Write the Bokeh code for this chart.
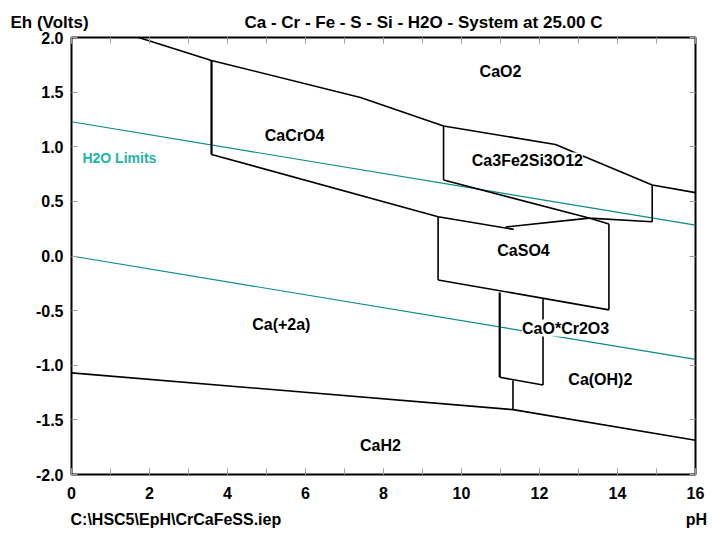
from bokeh.plotting import figure
from bokeh.models import (Range1d, LinearAxis, FixedTicker, NumeralTickFormatter,
                          CustomJSTickFormatter, Label, Title)
from bokeh.embed import file_html
from bokeh.resources import INLINE

# ---------------- data (pH, Eh in volts) ----------------
upper_ph = [1.72, 3.59, 7.41, 9.54, 12.41, 14.89, 16.0]
upper_eh = [2.0, 1.79, 1.45, 1.19, 1.02, 0.65, 0.58]

cacro4_left_ph = [3.59, 3.59]
cacro4_left_eh = [1.79, 0.93]
cacro4_lower_ph = [3.59, 9.40, 11.34]
cacro4_lower_eh = [0.93, 0.359, 0.244]
arrow_ph = [11.13, 13.27]
arrow_eh = [0.265, 0.347]

ca3_left_ph = [9.54, 9.54]
ca3_left_eh = [1.19, 0.695]
ca3_lower_ph = [9.54, 13.27, 14.89]
ca3_lower_eh = [0.695, 0.347, 0.313]
ca3_right_ph = [14.89, 14.89]
ca3_right_eh = [0.65, 0.313]

caso4_top_ph = [13.27, 13.78]
caso4_top_eh = [0.347, 0.292]
caso4_left_ph = [9.40, 9.40]
caso4_left_eh = [0.359, -0.219]
caso4_right_ph = [13.78, 13.78]
caso4_right_eh = [0.292, -0.493]
caso4_bottom_ph = [9.40, 13.78]
caso4_bottom_eh = [-0.219, -0.493]

caocr_left_ph = [10.98, 10.98]
caocr_left_eh = [-0.335, -1.11]
caocr_right_ph = [12.09, 12.09]
caocr_right_eh = [-0.39, -1.18]
caocr_bottom_ph = [10.98, 12.09]
caocr_bottom_eh = [-1.11, -1.18]

caoh_vert_ph = [11.32, 11.32]
caoh_vert_eh = [-1.14, -1.406]

cah2_ph = [0.0, 11.32, 16.0]
cah2_eh = [-1.07, -1.406, -1.687]

h2o_up_ph = [0.0, 16.0]
h2o_up_eh = [1.229, 0.282]
h2o_lo_ph = [0.0, 16.0]
h2o_lo_eh = [0.0, -0.947]

region_names = ["CaO2", "CaCrO4", "Ca3Fe2Si3O12", "CaSO4", "CaO*Cr2O3",
                "Ca(+2a)", "Ca(OH)2", "CaH2"]
region_ph = [11.0, 5.72, 11.69, 11.59, 12.67, 5.38, 13.56, 7.92]
region_eh = [1.69, 1.105, 0.87, 0.046, -0.66, -0.63, -1.13, -1.73]

x_ticks = list(range(0, 17))
x_label_ticks = [0, 2, 4, 6, 8, 10, 12, 14, 16]
y_ticks = [-2.0, -1.5, -1.0, -0.5, 0.0, 0.5, 1.0, 1.5, 2.0]

y_caption = "Eh (Volts)"
title_text = "Ca - Cr - Fe - S - Si - H2O - System at 25.00 C"
file_caption = "C:\\HSC5\\EpH\\CrCaFeSS.iep"
x_caption = "pH"

FONT = "Liberation Sans"
TICKC = "#a0a0a0"
NBSP = "\u00a0"

p = figure(width=712, height=535, x_range=Range1d(0, 16), y_range=Range1d(-2, 2),
           output_backend="svg", toolbar_location=None,
           min_border_left=71, min_border_right=17, min_border_top=37,
           min_border_bottom=60)
p.grid.grid_line_color = None
p.outline_line_color = "black"
p.outline_line_width = 2
p.background_fill_color = "white"
p.border_fill_color = "white"

xa = p.xaxis[0]
xa.ticker = FixedTicker(ticks=x_label_ticks, minor_ticks=x_ticks)
xa.formatter = NumeralTickFormatter(format="0")
ya = p.yaxis[0]
ya.ticker = FixedTicker(ticks=y_ticks)
ya.formatter = NumeralTickFormatter(format="0.0")
for ax in (xa, ya):
    ax.axis_line_color = None
    ax.major_tick_in = 6
    ax.major_tick_out = 0
    ax.minor_tick_in = 6
    ax.minor_tick_out = 0
    ax.major_tick_line_color = TICKC
    ax.minor_tick_line_color = TICKC
    ax.major_label_text_font = FONT
    ax.major_label_text_font_style = "bold"
    ax.major_label_text_font_size = "16px"
    ax.major_label_text_color = "black"
xa.major_label_standoff = 12
ya.major_label_standoff = 8
ya.minor_tick_line_color = None

blank = CustomJSTickFormatter(code="return ''")
top = LinearAxis(ticker=FixedTicker(ticks=x_label_ticks, minor_ticks=x_ticks),
                 formatter=blank)
right = LinearAxis(ticker=FixedTicker(ticks=y_ticks), formatter=blank)
for ax in (top, right):
    ax.axis_line_color = None
    ax.major_tick_in = 6
    ax.major_tick_out = 0
    ax.minor_tick_in = 6
    ax.minor_tick_out = 0
    ax.major_tick_line_color = TICKC
    ax.minor_tick_line_color = TICKC
    ax.major_label_standoff = 0
    ax.major_label_text_font_size = "1px"
right.minor_tick_line_color = None
p.add_layout(top, "above")
p.add_layout(right, "right")

TEAL = "#0b8a8a"
p.line(h2o_up_ph, h2o_up_eh, line_color=TEAL, line_width=1.2)
p.line(h2o_lo_ph, h2o_lo_eh, line_color=TEAL, line_width=1.2)

thin = [
    (upper_ph, upper_eh), (cacro4_lower_ph, cacro4_lower_eh), (arrow_ph, arrow_eh),
    (ca3_left_ph, ca3_left_eh), (ca3_lower_ph, ca3_lower_eh), (ca3_right_ph, ca3_right_eh),
    (caso4_top_ph, caso4_top_eh), (caso4_left_ph, caso4_left_eh),
    (caso4_right_ph, caso4_right_eh), (caso4_bottom_ph, caso4_bottom_eh),
    (caocr_right_ph, caocr_right_eh), (caocr_bottom_ph, caocr_bottom_eh),
    (caoh_vert_ph, caoh_vert_eh), (cah2_ph, cah2_eh),
]
for xs, ys in thin:
    p.line(xs, ys, line_color="black", line_width=1.6)
for xs, ys in [(cacro4_left_ph, cacro4_left_eh), (caocr_left_ph, caocr_left_eh)]:
    p.line(xs, ys, line_color="black", line_width=2.2)

for name, x, y in zip(region_names, region_ph, region_eh):
    p.add_layout(Label(x=x, y=y, text=name, text_align="center", text_baseline="middle",
                       text_font=FONT, text_font_style="bold", text_font_size="16px",
                       text_color="black", background_fill_color="white"))

p.add_layout(Label(x=0.28, y=0.9, text="H2O Limits", text_align="left",
                   text_baseline="middle", text_font=FONT, text_font_style="bold",
                   text_font_size="14px", text_color="#1fb3a6"))

# captions outside the frame (one line each, kept apart with no-break spaces)
top_title = Title(text=y_caption + NBSP * 33 + title_text, align="left",
                  offset=-61, standoff=12, text_font=FONT, text_font_style="bold",
                  text_font_size="17px", text_color="black")
p.add_layout(top_title, "above")
bottom_title = Title(text=file_caption + NBSP * 91 + x_caption, align="left", offset=-1,
                     standoff=15, text_font=FONT, text_font_style="bold",
                     text_font_size="16px", text_color="black")
p.add_layout(bottom_title, "below")

open("out.html", "w").write(file_html(p, INLINE))
